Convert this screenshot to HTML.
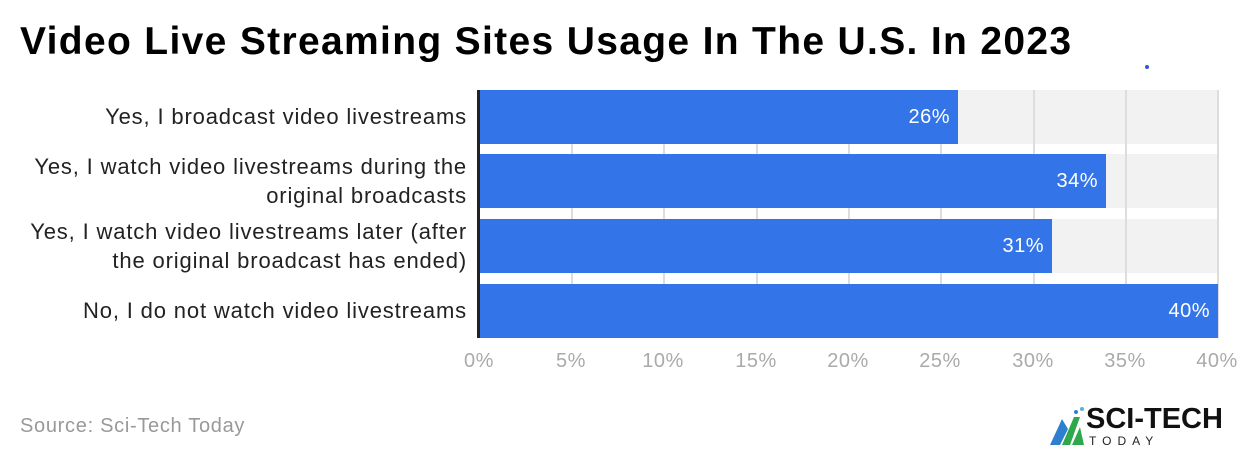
<!DOCTYPE html>
<html><head><style>
body{margin:0;width:1240px;height:460px;background:#fff;font-family:"Liberation Sans",sans-serif;position:relative;overflow:hidden}
.a{position:absolute}
.t{left:20px;top:20px;font-size:39px;font-weight:bold;color:#000;letter-spacing:1.33px;white-space:nowrap}
.lab{right:773px;text-align:right;font-size:22px;color:#222;line-height:29px;letter-spacing:0.85px;white-space:nowrap}
.bg{left:479px;width:739px;height:54px;background:#f2f2f2}
.bar{left:479px;height:54px;background:#3375e8}
.v{color:#fff;font-size:20px;text-align:right;line-height:54px;padding-right:8px;box-sizing:border-box;letter-spacing:0.5px}
.g{width:2px;background:#ddd;top:90px;height:248px}
.tk{top:350px;font-size:20px;color:#aaa;width:60px;text-align:center;letter-spacing:0.5px}
</style></head><body>
<div class="a t">Video Live Streaming Sites Usage In The U.S. In 2023</div>
<div class="a" style="left:1145px;top:65px;width:4px;height:4px;border-radius:2px;background:#3355dd"></div>

<div class="a bg" style="top:90px"></div>
<div class="a bg" style="top:154px"></div>
<div class="a bg" style="top:219px"></div>
<div class="a bg" style="top:284px"></div>

<div class="a g" style="left:571px"></div>
<div class="a g" style="left:663px"></div>
<div class="a g" style="left:756px"></div>
<div class="a g" style="left:848px"></div>
<div class="a g" style="left:940px"></div>
<div class="a g" style="left:1033px"></div>
<div class="a g" style="left:1125px"></div>
<div class="a g" style="left:1217px"></div>

<div class="a bar v" style="top:90px;width:479px">26%</div>
<div class="a bar v" style="top:154px;width:627px">34%</div>
<div class="a bar v" style="top:219px;width:573px">31%</div>
<div class="a bar v" style="top:284px;width:739px">40%</div>
<div class="a" style="left:477px;top:90px;width:3px;height:248px;background:#222"></div>

<div class="a lab" style="top:102px">Yes, I broadcast video livestreams</div>
<div class="a lab" style="top:152px">Yes, I watch video livestreams during the<br>original broadcasts</div>
<div class="a lab" style="top:217px">Yes, I watch video livestreams later (after<br>the original broadcast has ended)</div>
<div class="a lab" style="top:296px">No, I do not watch video livestreams</div>

<div class="a tk" style="left:449px">0%</div>
<div class="a tk" style="left:541px">5%</div>
<div class="a tk" style="left:633px">10%</div>
<div class="a tk" style="left:726px">15%</div>
<div class="a tk" style="left:818px">20%</div>
<div class="a tk" style="left:910px">25%</div>
<div class="a tk" style="left:1003px">30%</div>
<div class="a tk" style="left:1095px">35%</div>
<div class="a tk" style="left:1187px">40%</div>

<div class="a" style="left:20px;top:415px;font-size:20px;color:#999;letter-spacing:0.7px">Source: Sci-Tech Today</div>

<svg class="a" style="left:1048px;top:405px" width="40" height="45">
<polygon points="2,40 14,14 20,24 12,40" fill="#2f7fd0"/>
<polygon points="14,40 26,12 32,12 22,40" fill="#2ea84a"/>
<polygon points="24,40 32,22 36,40" fill="#2ea84a"/>
<circle cx="28" cy="7" r="2" fill="#2f7fd0"/><circle cx="34" cy="4" r="2" fill="#5aaee0"/>
</svg>
<div class="a" style="left:1086px;top:403px;font-size:29px;font-weight:bold;color:#111;letter-spacing:0px">SCI-TECH</div>
<div class="a" style="left:1089px;top:434px;font-size:12px;color:#222;letter-spacing:6px">TODAY</div>
</body></html>
